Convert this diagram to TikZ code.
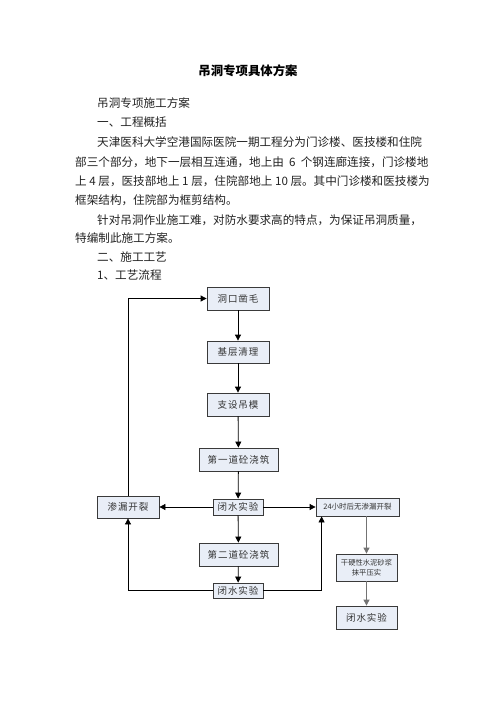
\documentclass[tikz,border=0pt]{standalone}
\usepackage{fontspec}
\setmainfont{Noto Sans CJK SC}
\newfontfamily\cjk{Noto Sans CJK SC}
\newfontfamily\cjkbox[LetterSpace=10]{Noto Sans CJK SC}
\usetikzlibrary{arrows.meta,calc}
\definecolor{boxfill}{HTML}{E9EEF7}
\definecolor{boxline}{HTML}{3A3A3A}
\definecolor{txt}{HTML}{222222}
\definecolor{btxt}{HTML}{333333}
\begin{document}
\begin{tikzpicture}[x=1pt,y=-1pt,
  bodytxt/.style={anchor=west,inner sep=0pt,text=txt,font=\cjk\fontsize{11.6}{13}\selectfont},
  fbox/.style={draw=boxline,fill=boxfill,line width=0.8pt,inner sep=0pt,align=center,text=btxt,font=\cjkbox\fontsize{9.5}{11}\selectfont},
  conn/.style={line width=0.8pt,-{Triangle[length=6pt,width=6pt]}},
  gconn/.style={conn,draw=black!55}
]
\useasboundingbox (0,0) rectangle (496,702);
\fill[white] (0,0) rectangle (496,702);
% title
\node[inner sep=0pt,font=\cjk\bfseries\fontsize{12.4}{14}\selectfont] (title) at (248,71) {吊洞专项具体方案};
% body text
\node[bodytxt] (t1) at (97,103) {吊洞专项施工方案};
\node[bodytxt] (t2) at (97,122) {一、工程概括};
\node[bodytxt] (t3) at (97,142) {天津医科大学空港国际医院一期工程分为门诊楼、医技楼和住院};
\node[bodytxt] (t4) at (75,162) {部三个部分，地下一层相互连通，地上由\ \ 6\ \ 个钢连廊连接，门诊楼地};
\node[bodytxt] (t5) at (75,181) {上 4 层，医技部地上 1 层，住院部地上 10 层。其中门诊楼和医技楼为};
\node[bodytxt] (t6) at (75,200) {框架结构，住院部为框剪结构。};
\node[bodytxt] (t7) at (97,220) {针对吊洞作业施工难，对防水要求高的特点，为保证吊洞质量，};
\node[bodytxt] (t8) at (75,238) {特编制此施工方案。};
\node[bodytxt] (t9) at (97,257) {二、施工工艺};
\node[bodytxt] (t10) at (97,275) {1、工艺流程};
% flowchart
\node[fbox,minimum width=62pt,minimum height=23pt] (b1) at (238,298.5) {洞口凿毛};
\node[fbox,minimum width=62pt,minimum height=22pt] (b2) at (238,352) {基层清理};
\node[fbox,minimum width=62pt,minimum height=23pt] (b3) at (238,404.5) {支设吊模};
\node[fbox,minimum width=79pt,minimum height=23pt] (b4) at (238.5,459.5) {第一道砼浇筑};
\node[fbox,minimum width=50pt,minimum height=16pt] (b5) at (238,507) {闭水实验};
\node[fbox,minimum width=62pt,minimum height=22pt] (lk) at (128,507) {渗漏开裂};
\node[fbox,minimum width=83pt,minimum height=18pt,font=\cjk\fontsize{7.5}{9}\selectfont] (rk) at (357.5,507) {24小时后无渗漏开裂};
\node[fbox,minimum width=79pt,minimum height=23pt] (b6) at (238.5,554.5) {第二道砼浇筑};
\node[fbox,minimum width=50pt,minimum height=15pt] (b7) at (238,590.5) {闭水实验};
\node[fbox,minimum width=61pt,minimum height=27pt,font=\cjk\fontsize{7.3}{9.5}\selectfont] (r2) at (366.5,567.5) {干硬性水泥砂浆\\抹平压实};
\node[fbox,minimum width=61pt,minimum height=23pt] (r3) at (366.5,617.5) {闭水实验};
% connectors
\draw[conn] (b1) -- (b2);
\draw[conn] (b2) -- (b3);
\draw[conn] (b3) -- (b4);
\draw[conn] (b4) -- (b5);
\draw[conn] (b5) -- (b6);
\draw[conn] (b6) -- (b7);
\draw[conn] (b5) -- (lk);
\draw[conn] (b5) -- (rk);
\draw[conn] (lk.north) |- (b1.west);
\draw[conn] (b7.west) -| (lk.south);
\draw[conn] (b7.east) -| ([xshift=6pt]rk.south west);
\draw[gconn] (rk.south -| r2.north) -- (r2.north);
\draw[gconn] (r2) -- (r3);
\end{tikzpicture}
\end{document}
